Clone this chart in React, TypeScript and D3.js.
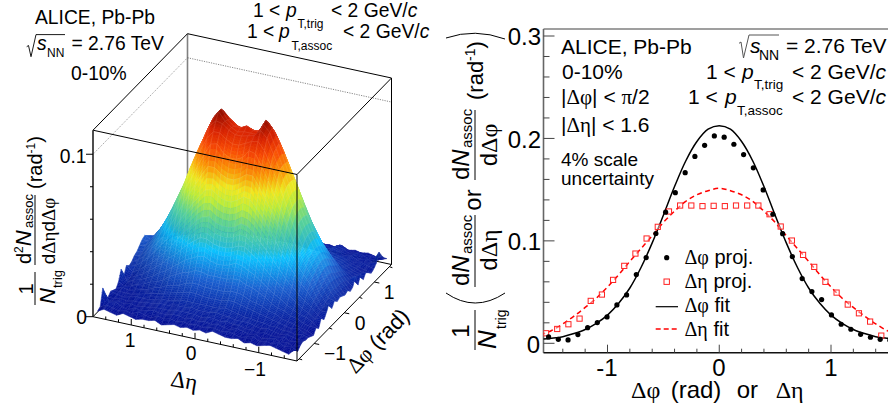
import React from "react";
import * as d3 from "d3";

// ---------- right panel data ----------
const phiBins = [-1.527,-1.44,-1.353,-1.265,-1.178,-1.091,-1.004,-0.916,-0.829,-0.742,-0.654,-0.567,-0.48,-0.393,-0.305,-0.218,-0.131,-0.044,0.044,0.131,0.218,0.305,0.393,0.48,0.567,0.654,0.742,0.829,0.916,1.004,1.091,1.178,1.265,1.353,1.44,1.527];
const phiProj = [.0062,.0039,.0033,.0085,.0153,.0202,.0257,.0375,.0472,.0671,.0837,.1072,.128,.147,.1666,.1824,.1933,.2024,.2012,.1943,.1842,.1713,.1497,.126,.107,.0847,.0632,.0505,.0427,.0277,.0186,.0137,.0088,.0059,.0039,.003];
const etaBins = [1.55,1.45,1.35,1.25,1.15,1.05,.95,.85,.75,.65,.55,.45,.35,.25,.15,.05,-.05,-.15,-.25,-.35,-.45,-.55,-.65,-.75,-.85,-.95,-1.05,-1.15,-1.25,-1.35,-1.45,-1.55];
const etaProjByX = [.0098,.014,.0186,.0241,.0414,.0476,.0619,.0756,.0876,.1023,.1137,.1287,.1345,.1345,.1339,.1342,.1339,.1345,.1345,.1345,.126,.114,.1003,.0863,.0746,.06,.0495,.0378,.0293,.0212,.0075,.004];
const fitX = [-1.6,-1.5,-1.4,-1.3,-1.2,-1.1,-1,-.9,-.8,-.7,-.6,-.5,-.4,-.3,-.2,-.1,0,.1,.2,.3,.4,.5,.6,.7,.8,.9,1,1.1,1.2,1.3,1.4,1.5,1.6];
const phiFit = [.004,.005,.0065,.0095,.0135,.0195,.0275,.039,.054,.074,.098,.125,.153,.178,.197,.209,.2125,.209,.197,.178,.153,.125,.098,.074,.054,.039,.0275,.0195,.0135,.0095,.0065,.005,.004];
const etaFit = [.008,.0125,.019,.0265,.035,.044,.055,.067,.08,.0925,.105,.118,.129,.1385,.145,.149,.1513,.149,.145,.1385,.129,.118,.105,.0925,.08,.067,.055,.044,.035,.0265,.019,.0125,.008];
const yMajor = [0,.1,.2,.3];
const yMinor = [.02,.04,.06,.08,.12,.14,.16,.18,.22,.24,.26,.28];
const xMajor = [-1,0,1];
const xMinor = [-1.4,-1.2,-.8,-.6,-.4,-.2,.2,.4,.6,.8,1.2,1.4];

// ---------- left panel data: surface height in units of 0.001, rows are dphi bins, columns are deta bins ----------
const surfaceRows = [
[3,5,4,3,5,4,3,4,4,5,3,4,5,4,5,4,5,4,6,5,4,4,5,3,4,3,4,5,4,3,2,6],
[4,6,5,4,5,4,6,5,4,6,5,6,5,6,5,6,5,6,6,5,6,5,4,5,6,4,5,4,6,4,5,3],
[14,6,7,5,4,6,5,6,7,6,6,7,7,6,7,6,7,6,7,6,5,7,6,5,6,4,5,6,4,5,3,5],
[6,5,6,5,6,5,6,6,7,7,7,8,8,8,8,7,8,8,7,8,7,7,6,6,5,6,5,5,6,4,5,6],
[5,5,6,5,6,6,7,7,8,8,8,9,9,10,9,9,9,10,9,9,8,8,8,7,6,7,6,5,6,5,4,5],
[7,6,5,6,7,7,7,8,9,9,10,11,11,11,11,11,11,11,12,11,10,9,9,8,8,7,7,6,6,5,6,5],
[6,6,6,6,7,8,9,10,11,12,13,14,15,15,14,14,14,14,15,15,14,13,12,11,10,9,8,7,6,7,5,4],
[5,7,6,7,8,9,11,12,14,15,16,18,19,19,18,18,18,18,19,19,18,16,15,14,12,11,9,8,7,6,5,3],
[8,6,7,9,10,12,13,15,18,20,22,23,25,25,24,24,24,24,25,25,23,22,20,18,15,13,12,10,9,7,6,6],
[14,7,9,10,12,14,17,19,22,25,28,30,32,33,31,30,30,31,33,32,30,28,25,22,19,17,14,12,10,9,7,4],
[8,8,10,12,15,18,21,25,28,32,36,39,42,42,40,39,39,40,42,42,39,36,32,28,25,21,18,15,12,10,7,9],
[13,10,12,15,18,22,26,31,36,41,45,50,53,54,51,50,50,51,54,53,50,45,41,36,31,26,22,18,15,12,8,6],
[11,12,15,19,23,28,33,39,46,52,58,63,68,69,66,64,64,66,69,68,63,58,52,46,39,33,28,23,19,14,9,9],
[12,14,17,22,27,32,39,46,54,61,68,75,81,81,78,76,76,78,81,81,75,68,61,54,46,39,32,27,22,15,9,13],
[14,15,19,24,30,37,44,53,62,70,78,86,93,94,89,87,87,89,94,93,86,78,70,62,53,44,37,30,24,16,11,8],
[15,16,21,26,33,40,48,57,68,77,86,94,99,99,96,94,94,96,98,99,94,86,77,68,57,48,40,33,26,18,12,11],
[17,18,22,28,35,43,52,61,72,82,91,100,104,103,100,98,98,99,100,104,100,91,82,72,61,52,43,35,28,20,14,9],
[19,19,23,29,36,44,53,62,73,83,93,102,108,103,100,98,99,99,99,106,102,93,83,73,62,53,44,36,29,21,14,10],
[20,18,24,29,36,44,53,62,73,84,94,103,108,102,99,99,101,99,99,107,103,94,83,73,62,53,44,36,29,21,13,9],
[18,19,22,28,35,43,52,61,72,82,91,100,105,101,98,97,98,97,98,104,99,91,82,72,61,52,43,35,28,20,13,8],
[16,16,21,26,33,40,48,57,68,77,86,95,99,98,95,92,92,94,96,99,94,86,77,68,57,48,40,33,26,18,13,9],
[14,15,19,24,30,37,44,53,62,70,78,86,93,94,89,87,87,89,94,93,86,78,70,62,53,44,37,30,24,17,12,7],
[13,14,17,22,27,32,39,46,54,61,68,75,81,81,78,76,76,78,81,81,75,68,61,54,46,39,32,27,22,16,11,8],
[12,12,15,19,23,28,33,39,46,52,58,63,68,69,66,64,64,66,69,68,63,58,52,46,39,33,28,23,19,14,10,13],
[11,10,12,15,18,22,26,31,36,41,45,50,53,54,51,50,50,51,54,53,50,45,41,36,31,26,22,18,15,12,9,6],
[9,8,10,12,15,18,21,25,28,32,36,39,42,42,40,39,39,40,42,42,39,36,32,28,25,21,18,15,12,10,8,11],
[8,7,9,10,12,14,17,19,22,25,28,30,32,33,31,30,30,31,33,32,30,28,25,22,19,17,14,13,11,9,8,6],
[7,6,7,9,10,12,13,15,18,20,22,23,25,25,24,24,24,24,25,25,23,22,20,18,15,14,13,12,10,8,7,9],
[6,7,6,7,8,9,11,12,14,15,16,18,19,19,18,18,18,18,19,19,18,16,15,14,13,13,12,11,9,8,6,7],
[5,6,6,6,7,8,9,10,11,12,13,14,15,15,14,14,14,14,15,15,14,13,12,12,12,12,11,10,8,7,6,5],
[5,5,5,6,7,7,7,8,9,9,10,11,11,11,11,11,11,11,12,11,10,10,10,11,11,10,9,8,7,8,7,6],
[4,5,6,5,6,6,7,7,8,8,8,9,9,10,9,9,9,10,9,9,8,9,10,10,11,10,8,9,7,6,7,8],
[5,5,6,5,6,5,6,6,7,7,7,8,8,8,8,7,8,8,8,8,7,8,9,8,10,8,7,8,6,7,6,13],
[4,4,5,4,4,6,5,6,7,6,6,7,7,6,7,6,7,6,7,7,6,7,8,7,9,8,6,7,7,5,6,9],
[4,4,5,4,5,4,6,5,4,6,5,6,5,6,5,6,5,6,6,6,6,7,6,6,8,6,5,6,5,6,4,6],
[3,4,4,3,5,4,3,4,4,5,3,4,5,4,5,4,5,4,6,5,5,4,5,4,6,4,5,4,5,4,3,4],
];
const zMajor = [0,.1];
const zMinor = [.02,.04,.06,.08];
const etaTicksMajor = [1,0,-1];
const etaTicksMinor = [1.4,1.2,.8,.6,.4,.2,-.2,-.4,-.6,-.8,-1.2,-1.4];
const phiTicksMajor = [-1,0,1];
const phiTicksMinor = [-1.5,-.5,.5,1.5];
const paletteStops = [0,.1,.2,.34,.37,.48,.58,.66,.74,.84,.92,1];
const paletteColors = ["#00008a","#0a2aa8","#1a60d0","#0cc4ff","#28bcd0","#60d490","#c0ec38","#f2e820","#fb9a08","#f84a06","#d82404","#8a0c00"];

const SANS = "'Liberation Sans', Arial, sans-serif";
const SERIF = "'Liberation Serif', 'Times New Roman', serif";

// ---------- left panel projection ----------
const A = [93, 316.7], B = [297, 361], C = [391.5, 264.5];
const boxH = 186.5;
const zTop = 0.1148;
const etaFrac = d3.scaleLinear().domain([1.6, -1.6]).range([0, 1]);
const phiFrac = d3.scaleLinear().domain([-Math.PI / 2, Math.PI / 2]).range([0, 1]);
const zPx = d3.scaleLinear().domain([0, zTop]).range([0, boxH]);
const project = (eta: number, phi: number, z: number): [number, number] => {
  const e = etaFrac(eta), p = phiFrac(phi);
  return [A[0] + e * (B[0] - A[0]) + p * (C[0] - B[0]), A[1] + e * (B[1] - A[1]) + p * (C[1] - B[1]) - zPx(z)];
};
const palette = d3.scaleLinear<string>().domain(paletteStops).range(paletteColors).interpolate(d3.interpolateRgb).clamp(true);
const poly = d3.line();
const SUB_ROWS = 4, SUB_COLS = 2; // colour smoothing inside one bin only

function Surface() {
  const cells: React.ReactElement[] = [];
  for (let r = phiBins.length - 2; r >= 0; r--) {
    for (let c = 0; c < etaBins.length - 1; c++) {
      const z00 = surfaceRows[r][c] / 1000, z01 = surfaceRows[r][c + 1] / 1000;
      const z10 = surfaceRows[r + 1][c] / 1000, z11 = surfaceRows[r + 1][c + 1] / 1000;
      const e0 = etaBins[c], e1 = etaBins[c + 1], f0 = phiBins[r], f1 = phiBins[r + 1];
      const at = (u: number, v: number) => {
        const z = (1 - v) * ((1 - u) * z00 + u * z01) + v * ((1 - u) * z10 + u * z11);
        return { p: project(e0 + (e1 - e0) * u, f0 + (f1 - f0) * v, z), z };
      };
      const slope = ((z00 + z10) - (z01 + z11)) / 2 / (e0 - e1);
      for (let j = SUB_ROWS - 1; j >= 0; j--) {
        for (let i = 0; i < SUB_COLS; i++) {
          const a = at(i / SUB_COLS, j / SUB_ROWS), b = at((i + 1) / SUB_COLS, j / SUB_ROWS);
          const d = at((i + 1) / SUB_COLS, (j + 1) / SUB_ROWS), e = at(i / SUB_COLS, (j + 1) / SUB_ROWS);
          const mean = (a.z + b.z + d.z + e.z) / 4;
          const base = palette(mean / 0.108);
          const dark = slope < 0 ? Math.min(0.7, -slope * 8) * Math.max(0, 1 - mean / 0.05) : 0;
          const fill = d3.color(base)!.darker(dark).formatRgb();
          cells.push(<path key={r + "-" + c + "-" + j + "-" + i} d={poly([a.p, b.p, d.p, e.p]) + "Z"} fill={fill} stroke={fill} strokeWidth={0.45} />);
        }
      }
      const q = [at(0, 0).p, at(1, 0).p, at(1, 1).p, at(0, 1).p];
      cells.push(<path key={"m" + r + "-" + c} d={poly(q) + "Z"} fill="none" stroke="#ffffff" strokeOpacity={0.15} strokeWidth={0.5} />);
    }
  }
  return <g>{cells}</g>;
}

function LeftPanel() {
  const top = (p: number[]) => [p[0], p[1] - boxH];
  const D = [A[0] + C[0] - B[0], A[1] + C[1] - B[1]];
  const At = top(A), Bt = top(B), Ct = top(C), Dt = top(D);
  const seg = (a: number[], b: number[], stroke: string, w: number, dash?: string) => (
    <line x1={a[0]} y1={a[1]} x2={b[0]} y2={b[1]} stroke={stroke} strokeWidth={w} strokeDasharray={dash} />
  );
  const z01 = zPx(0.1);
  const FS = 19.3;
  return (
    <g fontFamily={SANS} fill="#000">
      {/* back planes */}
      {seg(D, Dt, "#808080", 1.6)}
      {seg(A, D, "#000", 1)}
      {seg(D, C, "#000", 1)}
      {seg([A[0], A[1] - z01], [D[0], D[1] - z01], "#777", 0.7, "1.2 1.2")}
      {seg([D[0], D[1] - z01], [C[0], C[1] - z01], "#555", 0.7, "1.2 1.2")}
      {seg(At, Dt, "#000", 1)}
      {seg(Dt, Ct, "#000", 1)}
      {seg(C, Ct, "#000", 1)}
      <Surface />
      {/* front edges */}
      {seg(B, Bt, "#000", 1)}
      {seg(Ct, Bt, "#000", 1)}
      {seg(At, Bt, "#000", 1)}
      {seg(A, At, "#222", 1.6)}
      {seg(A, B, "#000", 1)}
      {seg(B, C, "#000", 1)}
      {zMajor.map((z) => seg([A[0] - 7, A[1] - zPx(z)], [A[0], A[1] - zPx(z)], "#000", 1))}
      {zMinor.map((z) => seg([A[0] - 3, A[1] - zPx(z)], [A[0], A[1] - zPx(z)], "#000", 1))}
      {etaTicksMajor.map((e) => { const p = project(e, -Math.PI / 2, 0); return seg(p, [p[0], p[1] - 6], "#000", 1); })}
      {etaTicksMinor.map((e) => { const p = project(e, -Math.PI / 2, 0); return seg(p, [p[0], p[1] - 3], "#000", 1); })}
      {phiTicksMajor.map((f) => { const p = project(-1.6, f, 0); return seg(p, [p[0] + 5, p[1] + 1], "#000", 1); })}
      {phiTicksMinor.map((f) => { const p = project(-1.6, f, 0); return seg(p, [p[0] + 3, p[1] + 1], "#000", 1); })}

      {/* header */}
      <text x={95} y={24} fontSize={FS} textAnchor="middle">ALICE, Pb-Pb</text>
      <path d="M26.7 46.7 L28.5 45.5 L31 56.7 L36 34.6 L65 34.6" fill="none" stroke="#000" strokeWidth={0.9} />
      <text x={37} y={50} fontSize={FS} fontStyle="italic">s</text>
      <text x={47} y={56.7} fontSize={12}>NN</text>
      <text x={71.5} y={50} fontSize={FS}>= 2.76 TeV</text>
      <text x={71} y={80} fontSize={FS}>0-10%</text>

      <text x={253} y={17} fontSize={FS}>1 &lt;</text>
      <text x={286} y={17} fontSize={FS} fontStyle="italic">p</text>
      <text x={297.5} y={28} fontSize={12}>T,trig</text>
      <text x={331} y={17} fontSize={FS}>&lt; 2 GeV/<tspan fontStyle="italic">c</tspan></text>
      <text x={247} y={38} fontSize={FS}>1 &lt;</text>
      <text x={279} y={38} fontSize={FS} fontStyle="italic">p</text>
      <text x={291.5} y={50} fontSize={12}>T,assoc</text>
      <text x={343} y={38} fontSize={FS}>&lt; 2 GeV/<tspan fontStyle="italic">c</tspan></text>

      {/* z axis labels */}
      <text x={86.5} y={163} fontSize={FS} textAnchor="end">0.1</text>
      <text x={87} y={324} fontSize={FS} textAnchor="end">0</text>
      {/* eta / phi labels */}
      <text x={130} y={347} fontSize={FS} textAnchor="middle">1</text>
      <text x={191} y={360} fontSize={FS} textAnchor="middle">0</text>
      <text x={255} y={376} fontSize={FS} textAnchor="middle">−1</text>
      <text x={389} y={299} fontSize={FS} textAnchor="middle">1</text>
      <text x={360} y={330} fontSize={FS} textAnchor="middle">0</text>
      <text x={335} y={360} fontSize={FS} textAnchor="middle">−1</text>
      <text transform="translate(183,388) rotate(10)" fontSize={23} textAnchor="middle" fontFamily={SERIF}>Δη</text>
      <text transform="translate(383,346) rotate(-46)" fontSize={22} textAnchor="middle"><tspan fontFamily={SERIF}>Δφ</tspan> (rad)</text>

      {/* y title */}
      <line x1={35} y1={272} x2={35} y2={305} stroke="#000" strokeWidth={1} />
      <line x1={35} y1={195} x2={35} y2={265} stroke="#000" strokeWidth={1} />
      <text transform="translate(33,289) rotate(-90)" fontSize={20} textAnchor="middle">1</text>
      <text transform="translate(55,304) rotate(-90)" fontSize={22} fontStyle="italic">N</text>
      <text transform="translate(62,288) rotate(-90)" fontSize={13}>trig</text>
      <text transform="translate(31,264) rotate(-90)" fontSize={20}>d<tspan fontSize={12} dy={-8}>2</tspan><tspan fontStyle="italic" dy={8} fontSize={22}>N</tspan></text>
      <text transform="translate(33,228) rotate(-90)" fontSize={13}>assoc</text>
      <text transform="translate(55,231) rotate(-90)" fontSize={19} textAnchor="middle">d<tspan fontFamily={SERIF}>Δη</tspan>d<tspan fontFamily={SERIF}>Δφ</tspan></text>
      <text transform="translate(42,189) rotate(-90)" fontSize={20}>(rad<tspan fontSize={12} dy={-7}>-1</tspan><tspan dy={7}>)</tspan></text>
    </g>
  );
}

// ---------- right panel ----------
const L = 543.5, R = 895, T = 29, Bot = 352.7;
const x = d3.scaleLinear().domain([-1, 1]).range([607.5, 831]);
const y = d3.scaleLinear().domain([0, 0.3]).range([343.3, 36]);
const fitLine = d3.line<number>().x((_, i) => x(fitX[i])).y((d) => y(d)).curve(d3.curveCatmullRom);

function RightPanel() {
  const etaX = etaBins.slice().reverse();
  return (
    <g fontFamily={SANS} fill="#000">
      <defs><clipPath id="frame"><rect x={L} y={T} width={R - L} height={Bot - T} /></clipPath></defs>
      <line x1={L} y1={T} x2={R} y2={T} stroke="#7f7f7f" strokeWidth={1.6} />
      <line x1={L} y1={T} x2={L} y2={Bot} stroke="#666" strokeWidth={1.6} />
      <line x1={L} y1={Bot} x2={R} y2={Bot} stroke="#111" strokeWidth={1.6} />
      {yMajor.map((v) => <line key={v} x1={L} x2={L + 11} y1={y(v)} y2={y(v)} stroke="#444" strokeWidth={1} />)}
      {yMinor.map((v) => <line key={v} x1={L} x2={L + 6} y1={y(v)} y2={y(v)} stroke="#444" strokeWidth={1} />)}
      {xMajor.map((v) => <line key={v} x1={x(v)} x2={x(v)} y1={Bot} y2={Bot - 8} stroke="#444" strokeWidth={1} />)}
      {xMinor.map((v) => <line key={v} x1={x(v)} x2={x(v)} y1={Bot} y2={Bot - 4} stroke="#444" strokeWidth={1} />)}

      <g clipPath="url(#frame)">
        <path d={fitLine(phiFit) ?? ""} fill="none" stroke="#000" strokeWidth={1.5} />
        <path d={fitLine(etaFit) ?? ""} fill="none" stroke="#f00" strokeWidth={1.5} strokeDasharray="5 3.5" />
        {etaX.map((e, i) => <rect key={e} x={x(e) - 2.6} y={y(etaProjByX[i]) - 2.6} width={5.2} height={5.2} fill="#fff" fillOpacity={0.4} stroke="#f22" strokeWidth={1} />)}
        {phiBins.map((f, i) => <circle key={f} cx={x(f)} cy={y(phiProj[i])} r={2.6} fill="#000" />)}
      </g>

      {/* tick labels */}
      <text x={541} y={45} fontSize={24} textAnchor="end">0.3</text>
      <text x={541} y={148} fontSize={24} textAnchor="end">0.2</text>
      <text x={541} y={250} fontSize={24} textAnchor="end">0.1</text>
      <text x={540} y={353} fontSize={24} textAnchor="end">0</text>
      <text x={607} y={376} fontSize={24} textAnchor="middle">-1</text>
      <text x={719} y={376} fontSize={24} textAnchor="middle">0</text>
      <text x={831} y={376} fontSize={24} textAnchor="middle">1</text>
      <text x={631} y={398} fontSize={24} fontFamily={SERIF}>Δφ</text>
      <text x={670.7} y={398} fontSize={24}>(rad)</text>
      <text x={736.7} y={398} fontSize={24}>or</text>
      <text x={775.7} y={398} fontSize={24} fontFamily={SERIF}>Δη</text>

      {/* annotations */}
      <text x={561} y={54} fontSize={21}>ALICE, Pb-Pb</text>
      <text x={562} y={79} fontSize={21}>0-10%</text>
      <text x={561} y={104} fontSize={21}>|<tspan fontFamily={SERIF}>Δφ</tspan>| &lt; <tspan fontFamily={SERIF}>π</tspan>/2</text>
      <text x={561} y={132} fontSize={21}>|<tspan fontFamily={SERIF}>Δη</tspan>| &lt; 1.6</text>
      <text x={561} y={166} fontSize={19}>4% scale</text>
      <text x={561} y={185} fontSize={19}>uncertainty</text>

      <path d="M739 43.3 L741 42 L743.5 58 L749 35 L779 35" fill="none" stroke="#555" strokeWidth={1} />
      <text x={750} y={53} fontSize={21} fontStyle="italic">s</text>
      <text x={759} y={59.5} fontSize={14}>NN</text>
      <text x={786} y={53} fontSize={21}>= 2.76 TeV</text>
      <text x={706} y={79} fontSize={21}>1 &lt;</text>
      <text x={742} y={79} fontSize={21} fontStyle="italic">p</text>
      <text x={754} y={89} fontSize={13.5}>T,trig</text>
      <text x={792} y={79} fontSize={21}>&lt; 2 GeV/<tspan fontStyle="italic">c</tspan></text>
      <text x={688} y={104} fontSize={21}>1 &lt;</text>
      <text x={725} y={104} fontSize={21} fontStyle="italic">p</text>
      <text x={737} y={115} fontSize={13.5}>T,assoc</text>
      <text x={792} y={104} fontSize={21}>&lt; 2 GeV/<tspan fontStyle="italic">c</tspan></text>

      {/* legend */}
      <circle cx={666.7} cy={257.7} r={2.6} fill="#000" />
      <rect x={664} y={279} width={5.4} height={5.4} fill="none" stroke="#f22" strokeWidth={1} />
      <line x1={655.7} x2={678} y1={306.7} y2={306.7} stroke="#000" strokeWidth={1.2} />
      <line x1={655.7} x2={678} y1={329} y2={329} stroke="#f00" strokeWidth={1.5} strokeDasharray="5 3" />
      <text x={684.5} y={264} fontSize={20}><tspan fontFamily={SERIF}>Δφ</tspan> proj.</text>
      <text x={684.5} y={288} fontSize={20}><tspan fontFamily={SERIF}>Δη</tspan> proj.</text>
      <text x={684.5} y={312} fontSize={20}><tspan fontFamily={SERIF}>Δφ</tspan> fit</text>
      <text x={684.5} y={336} fontSize={20}><tspan fontFamily={SERIF}>Δη</tspan> fit</text>

      {/* y title */}
      <path d="M446 38 Q475 28 505 39" fill="none" stroke="#000" strokeWidth={1} />
      <path d="M446 293 Q475 313 505 293" fill="none" stroke="#000" strokeWidth={1} />
      <line x1={475} y1={310} x2={475} y2={350} stroke="#000" strokeWidth={1} />
      <line x1={475} y1={215} x2={475} y2={287} stroke="#000" strokeWidth={1} />
      <line x1={475} y1={110} x2={475} y2={180} stroke="#000" strokeWidth={1} />
      <text transform="translate(469,331) rotate(-90)" fontSize={24} textAnchor="middle">1</text>
      <text transform="translate(496,349) rotate(-90)" fontSize={26} fontStyle="italic">N</text>
      <text transform="translate(506,329) rotate(-90)" fontSize={14}>trig</text>
      <text transform="translate(469,286) rotate(-90)" fontSize={24}>d<tspan fontStyle="italic">N</tspan></text>
      <text transform="translate(472,254) rotate(-90)" fontSize={15}>assoc</text>
      <text transform="translate(497,250) rotate(-90)" fontSize={24} textAnchor="middle">d<tspan fontFamily={SERIF}>Δη</tspan></text>
      <text transform="translate(481,200) rotate(-90)" fontSize={24} textAnchor="middle">or</text>
      <text transform="translate(469,180) rotate(-90)" fontSize={24}>d<tspan fontStyle="italic">N</tspan></text>
      <text transform="translate(472,148) rotate(-90)" fontSize={15}>assoc</text>
      <text transform="translate(497,145) rotate(-90)" fontSize={24} textAnchor="middle">d<tspan fontFamily={SERIF}>Δφ</tspan></text>
      <text transform="translate(483,100) rotate(-90)" fontSize={22}>(rad<tspan fontSize={14} dy={-8}>-1</tspan><tspan dy={8}>)</tspan></text>
    </g>
  );
}

export default function App() {
  return (
    <svg width={888} height={410} viewBox="0 0 888 410" style={{ position: "absolute", left: 0, top: 0, background: "#fff" }}>
      <LeftPanel />
      <RightPanel />
    </svg>
  );
}
